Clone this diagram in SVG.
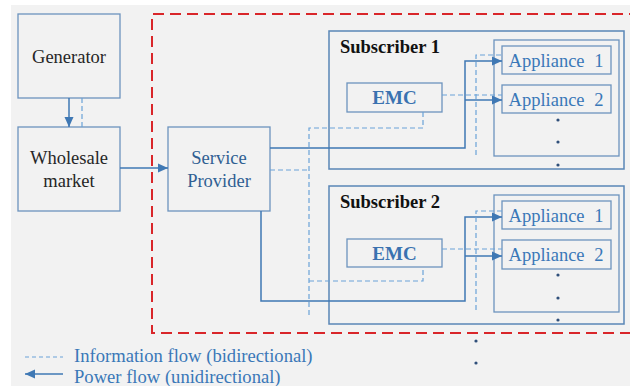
<svg xmlns="http://www.w3.org/2000/svg" width="630" height="386" viewBox="0 0 630 386">
<defs>
<style>
.bg{fill:#f2f2f2}
.box{fill:#f2f2f2;stroke:#6c93be;stroke-width:1.3}
.sub{fill:none;stroke:#5a86b6;stroke-width:1.5}
.pw{fill:none;stroke:#3f78b4;stroke-width:1.5}
.info{fill:none;stroke:#6aa2d8;stroke-width:1.2;stroke-dasharray:5,3}
.red{fill:none;stroke:#d9262a;stroke-width:2;stroke-dasharray:11,6}
.t{font-family:"Liberation Serif","Times New Roman",serif;font-size:18.5px;text-anchor:middle}
.dark{fill:#262626}
.blue{fill:#2f5f92}
.app{fill:#3a78b8;word-spacing:5px}
.emc{fill:#3a72b0;font-weight:bold;font-size:19px}
.subl{fill:#111;font-weight:bold;text-anchor:start}
.leg{font-family:"Liberation Serif","Times New Roman",serif;font-size:18.6px;fill:#3a78b8}
.dot{fill:#2f4f7a}
</style>
<marker id="ah" viewBox="0 0 10 10" refX="10" refY="5" markerWidth="10" markerHeight="10" markerUnits="userSpaceOnUse" orient="auto">
<path d="M0,0.5 L10,5 L0,9.5 z" fill="#3f78b4"/>
</marker>
</defs>
<rect x="0" y="0" width="630" height="386" fill="#ffffff"/>
<rect class="bg" x="11" y="5" width="619" height="381"/>
<path class="red" d="M640,14 H152 V333 H640"/>

<g id="generator">
<rect class="box" x="18" y="14" width="102" height="84"/>
<text class="t dark" x="69" y="63">Generator</text>
</g>
<g id="wholesale">
<rect class="box" x="18" y="127" width="102" height="84"/>
<text class="t dark" x="69" y="164">Wholesale</text>
<text class="t dark" x="69" y="187">market</text>
</g>
<g id="service-provider">
<rect class="box" x="168" y="127" width="102" height="84"/>
<text class="t blue" x="219" y="164">Service</text>
<text class="t blue" x="219" y="187">Provider</text>
</g>

<g id="subscriber1">
<rect class="sub" x="329" y="31" width="295" height="138"/>
<text class="t subl" x="340" y="53">Subscriber 1</text>
<rect class="box" x="494" y="40" width="125" height="116"/>
</g>
<g id="emc1">
<rect class="box" x="347" y="83" width="95" height="29"/>
<text class="t emc" x="394.5" y="104">EMC</text>
</g>
<g id="s1-appliance1">
<rect class="box" x="502" y="46" width="109" height="28"/>
<text class="t app" x="556" y="67">Appliance 1</text>
</g>
<g id="s1-appliance2">
<rect class="box" x="502" y="85" width="109" height="28"/>
<text class="t app" x="556" y="106">Appliance 2</text>
</g>
<g id="s1-dots">
<circle class="dot" cx="558" cy="120" r="1.6"/>
<circle class="dot" cx="558" cy="142" r="1.6"/>
<circle class="dot" cx="558" cy="165" r="1.6"/>
</g>

<g id="subscriber2">
<rect class="sub" x="329" y="186" width="295" height="138"/>
<text class="t subl" x="340" y="208">Subscriber 2</text>
<rect class="box" x="494" y="195" width="125" height="117"/>
</g>
<g id="emc2">
<rect class="box" x="347" y="239" width="95" height="28"/>
<text class="t emc" x="394.5" y="260">EMC</text>
</g>
<g id="s2-appliance1">
<rect class="box" x="502" y="201" width="109" height="28"/>
<text class="t app" x="556" y="222">Appliance 1</text>
</g>
<g id="s2-appliance2">
<rect class="box" x="502" y="240" width="109" height="29"/>
<text class="t app" x="556" y="261">Appliance 2</text>
</g>
<g id="s2-dots">
<circle class="dot" cx="558" cy="275" r="1.6"/>
<circle class="dot" cx="558" cy="298" r="1.6"/>
<circle class="dot" cx="558" cy="320" r="1.6"/>
</g>
<g id="more-dots">
<circle class="dot" cx="476" cy="341" r="1.6"/>
<circle class="dot" cx="476" cy="363" r="1.6"/>
</g>

<g id="connectors">
<path class="pw" d="M69,98 V127" marker-end="url(#ah)"/>
<path class="info" d="M82,98 V127"/>
<path class="pw" d="M120,168 H168" marker-end="url(#ah)"/>
<path class="pw" d="M270,148 H465 V61 H502" marker-end="url(#ah)"/>
<path class="pw" d="M465,100 H502" marker-end="url(#ah)"/>
<path class="info" d="M270,170 H309"/>
<path class="info" d="M309,315 V128 H423 V112"/>
<path class="info" d="M442,95 H502"/>
<path class="info" d="M476,155 V55 H502"/>
<path class="pw" d="M261,211 V301 H465 V217 H502" marker-end="url(#ah)"/>
<path class="pw" d="M465,256 H502" marker-end="url(#ah)"/>
<path class="info" d="M309,281 H423 V267"/>
<path class="info" d="M442,249 H502"/>
<path class="info" d="M476,310 V211 H502"/>
</g>

<g id="legend">
<path class="info" d="M25,357 H63" style="stroke-dasharray:4,3"/>
<text class="leg" x="74" y="362">Information flow (bidirectional)</text>
<path class="pw" d="M63,374 H25" marker-end="url(#ah)"/>
<text class="leg" x="74" y="383">Power flow (unidirectional)</text>
</g>
</svg>
